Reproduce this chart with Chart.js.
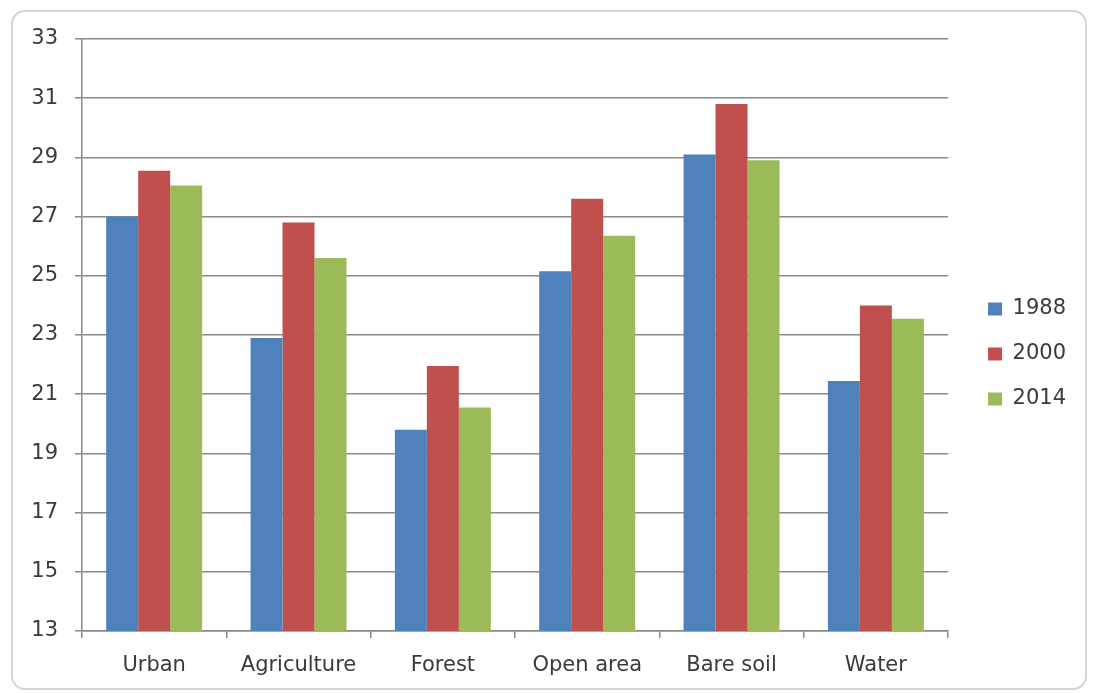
<!DOCTYPE html>
<html>
<head>
<meta charset="utf-8">
<script src="https://cdn.jsdelivr.net/npm/chart.js@4"></script>
<style>
  html, body { margin: 0; padding: 0; background: #fff; }
  #wrap { position: relative; width: 1094px; height: 693px; }
  #frame {
    position: absolute; left: 11px; top: 10px; width: 1072px; height: 676px;
    border: 2px solid #d4d4d4; border-radius: 14px; pointer-events: none;
  }
</style>
</head>
<body>
<div id="wrap">
  <canvas id="myChart" width="1094" height="693"></canvas>
  <div id="frame"></div>
</div>
<script>
const categories = ['Urban', 'Agriculture', 'Forest', 'Open area', 'Bare soil', 'Water'];
const years = ['1988', '2000', '2014'];
const values1988 = [27.0, 22.9, 19.8, 25.15, 29.1, 21.45];
const values2000 = [28.55, 26.8, 21.95, 27.6, 30.8, 24.0];
const values2014 = [28.05, 25.6, 20.55, 26.35, 28.9, 23.55];
const colors = ['#4F81BD', '#C0504D', '#9BBB59'];

const gridColor = '#8a8a8a';
const textColor = '#3a3a3a';
const font = { family: 'DejaVu Sans', size: 21 };

// nudge the legend to where the original sits, chart area unchanged
const legendShift = {
    id: 'legendShift',
    afterLayout(chart) {
        const lg = chart.legend;
        lg.left += 16; lg.right += 16;
        lg.top -= 12; lg.bottom -= 12;
    }
};

(function() {
    const ctx = document.getElementById('myChart');

    new Chart(ctx, {
        type: 'bar',
        data: {
            labels: categories,
            datasets: [values1988, values2000, values2014].map((d, i) => ({
                label: years[i],
                data: d,
                backgroundColor: colors[i],
                borderWidth: 0,
                categoryPercentage: 0.665,
                barPercentage: 1.0
            }))
        },
        options: {
            responsive: false,
            animation: false,
            layout: {
                padding: { top: 39, right: 34, bottom: 0, left: 0 }
            },
            plugins: {
                tooltip: { enabled: false },
                legend: {
                    position: 'right',
                    labels: {
                        color: textColor,
                        font: font,
                        boxWidth: 14,
                        boxHeight: 13,
                        padding: 24
                    }
                }
            },
            scales: {
                x: {
                    afterFit: s => { s.height = 62; },
                    grid: {
                        offset: true,
                        drawOnChartArea: false,
                        color: gridColor,
                        lineWidth: 1.5,
                        tickLength: 7
                    },
                    border: { color: gridColor, width: 1.5 },
                    ticks: { color: textColor, font: font, padding: 15 }
                },
                y: {
                    min: 13,
                    max: 33,
                    afterFit: s => { s.width = 82; },
                    ticks: { stepSize: 2, color: textColor, font: font, padding: 17 },
                    grid: { color: gridColor, lineWidth: 1.5, tickLength: 7 },
                    border: { color: gridColor, width: 1.5 }
                }
            }
        },
        plugins: [legendShift]
    });
})();
</script>
</body>
</html>
